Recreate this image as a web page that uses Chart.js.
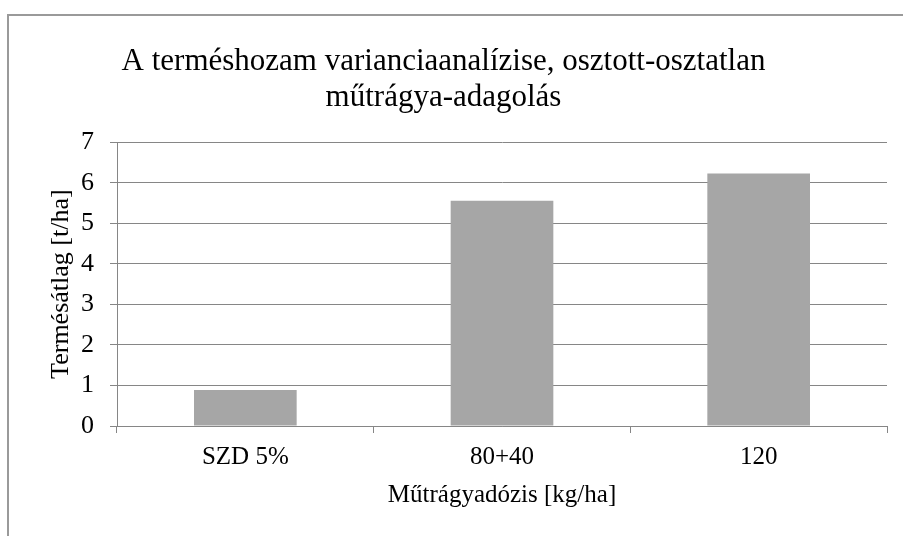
<!DOCTYPE html>
<html>
<head>
<meta charset="utf-8">
<script src="https://cdn.jsdelivr.net/npm/chart.js@4"></script>
<style>
  html, body { margin: 0; padding: 0; background: #fff; }
  #wrap { width: 903px; height: 536px; }
</style>
</head>
<body>
<div id="wrap"><canvas id="chart" width="903" height="536"></canvas></div>
<script>
// adatok
const categories = ["SZD 5%", "80+40", "120"];
const yieldValues = [0.89, 5.56, 6.23];
const chartTitle = ["A terméshozam varianciaanalízise, osztott-osztatlan", "műtrágya-adagolás"];
const xTitle = "Műtrágyadózis [kg/ha]";
const yTitle = "Termésátlag [t/ha]";

const serif = "'Liberation Serif', 'Times New Roman', serif";
const gridColor = '#868686';

// külső keret (bal és felső vonal)
const frame = {
  id: 'frame',
  beforeDraw(chart) {
    const ctx = chart.ctx;
    ctx.save();
    ctx.strokeStyle = '#9a9a9a';
    ctx.lineWidth = 2;
    ctx.beginPath();
    ctx.moveTo(8, 540);
    ctx.lineTo(8, 15);
    ctx.lineTo(905, 15);
    ctx.stroke();
    ctx.restore();
  }
};

new Chart(document.getElementById('chart').getContext('2d'), {
  type: 'bar',
  data: {
    labels: categories,
    datasets: [{
      label: 'Termésátlag',
      data: yieldValues,
      backgroundColor: '#a6a6a6',
      borderWidth: 0,
      barPercentage: 0.4,
      categoryPercentage: 1.0
    }]
  },
  options: {
    responsive: false,
    animation: false,
    devicePixelRatio: 1,
    layout: { padding: { left: 0, right: 16, top: 0, bottom: 0 } },
    plugins: {
      legend: { display: false },
      tooltip: { enabled: false },
      title: {
        display: true,
        text: chartTitle,
        color: '#000',
        font: { family: serif, size: 31, weight: 'normal', lineHeight: 1.15 },
        padding: { top: 44, bottom: 27 }
      }
    },
    scales: {
      x: {
        grid: {
          offset: true,
          drawOnChartArea: false,
          drawTicks: true,
          tickLength: 7,
          color: gridColor
        },
        border: { display: true, color: gridColor },
        ticks: {
          color: '#000',
          padding: 9,
          font: { family: serif, size: 25 }
        },
        title: {
          display: true,
          text: xTitle,
          color: '#000',
          font: { family: serif, size: 25 },
          padding: { top: 0, bottom: 26 }
        },
        afterFit(scale) { scale.height = 110; }
      },
      y: {
        min: 0,
        max: 7,
        ticks: {
          stepSize: 1,
          color: '#000',
          padding: 16,
          font: { family: serif, size: 26 }
        },
        grid: { color: gridColor, tickLength: 7 },
        border: { display: true, color: gridColor },
        title: {
          display: true,
          text: yTitle,
          color: '#000',
          font: { family: serif, size: 26 },
          padding: { top: 46, bottom: 0 }
        },
        afterFit(scale) { scale.width = 117; }
      }
    }
  },
  plugins: [frame]
});
</script>
</body>
</html>
